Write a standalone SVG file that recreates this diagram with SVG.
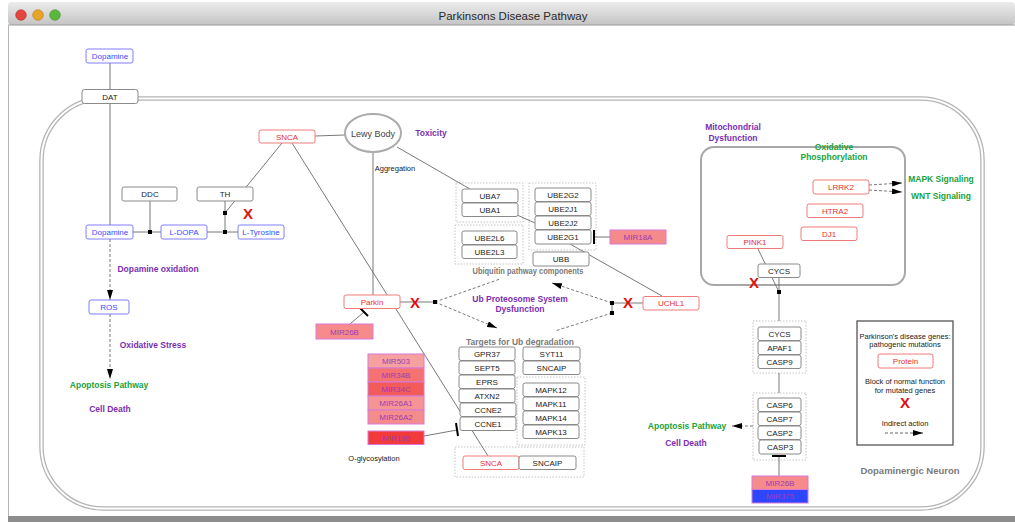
<svg xmlns="http://www.w3.org/2000/svg" width="1015" height="522" viewBox="0 0 1015 522">
<defs>
<linearGradient id="tb" x1="0" y1="0" x2="0" y2="1"><stop offset="0" stop-color="#ececec"/><stop offset="1" stop-color="#c4c4c4"/></linearGradient>
<marker id="arr" viewBox="0 0 10 6" refX="10" refY="3" markerWidth="10" markerHeight="6" markerUnits="userSpaceOnUse" orient="auto"><path d="M0,0 L10,3 L0,6 z" fill="#000"/></marker>
<marker id="arrs" viewBox="0 0 10 6" refX="10" refY="3" markerWidth="11" markerHeight="6" markerUnits="userSpaceOnUse" orient="auto"><path d="M0,0 L10,3 L0,6 z" fill="#000"/></marker>
</defs>
<style>
text{font-family:"Liberation Sans",Arial,sans-serif}
.n rect{fill:#fff;stroke:#8a8a8a;stroke-width:1}
.n text{font-size:8px;fill:#222;text-anchor:middle}
.b rect{fill:#fff;stroke:#7f7fff;stroke-width:1}
.b text{font-size:8px;fill:#3a4cff;text-anchor:middle}
.r rect{fill:#fff;stroke:#f07a7a;stroke-width:1}
.r text{font-size:8px;fill:#e83030;text-anchor:middle}
.m rect{stroke:#d77ad7;stroke-width:1}
.m text{font-size:8px;fill:#a03cb4;text-anchor:middle}
.grp{fill:none;stroke:#c4c4c4;stroke-width:1;stroke-dasharray:1.5,1.5}
.lp{font-size:8.5px;font-weight:bold;fill:#7b2fb0;text-anchor:middle}
.lg{font-size:8.5px;font-weight:bold;fill:#22a23a;text-anchor:middle}
.ly{font-size:9.5px;font-weight:bold;fill:#7a7a7a;text-anchor:middle}
.sm{font-size:7.5px;fill:#222;text-anchor:middle}
.x{font-size:15px;font-weight:bold;fill:#e01010;text-anchor:middle}
.c line,.c path{stroke:#6a6a6a;stroke-width:0.9;fill:none}
.d{stroke:#555;stroke-width:0.9;stroke-dasharray:3,2;fill:none}
.c .bar{stroke:#000;stroke-width:2}
.c rect{fill:#000}
</style>
<!-- window chrome -->
<rect x="0" y="0" width="1015" height="522" fill="#fff"/>
<rect x="8" y="2" width="1007" height="23" rx="4" fill="url(#tb)"/>
<line x1="8" y1="25" x2="1015" y2="25" stroke="#9a9a9a" stroke-width="1"/>
<line x1="8.5" y1="25" x2="8.5" y2="517" stroke="#b5b5b5" stroke-width="1"/>
<rect x="8" y="516" width="1007" height="6" fill="#8d8d8d"/>
<circle cx="21" cy="15" r="5.3" fill="#e2463f" stroke="#b03028" stroke-width="0.6"/>
<circle cx="38" cy="15" r="5.3" fill="#e8a428" stroke="#b57d1a" stroke-width="0.6"/>
<circle cx="55" cy="15" r="5.3" fill="#5cb83c" stroke="#3f8a28" stroke-width="0.6"/>
<text x="513" y="19.5" font-size="11.5" fill="#2a2a2a" text-anchor="middle">Parkinsons Disease Pathway</text>
<!-- cell membrane -->
<rect x="41.5" y="98.5" width="941" height="410" rx="62" fill="none" stroke="#b4b4b4" stroke-width="4.5"/>
<rect x="41.5" y="98.5" width="941" height="410" rx="62" fill="none" stroke="#fff" stroke-width="2"/>
<!-- mitochondria -->
<rect x="701" y="147" width="204" height="138" rx="13" fill="none" stroke="#a8a8a8" stroke-width="2"/>
<!-- group boxes -->
<rect class="grp" x="456" y="183" width="67" height="39"/>
<rect class="grp" x="455" y="225" width="68" height="39"/>
<rect class="grp" x="529" y="183" width="67" height="67"/>
<rect class="grp" x="517" y="377" width="68" height="68"/>
<rect class="grp" x="455" y="447" width="129" height="30"/>
<rect class="grp" x="753" y="321" width="53" height="52"/>
<rect class="grp" x="753" y="393" width="53" height="67"/>
<!-- connectors -->
<g id="connectors" class="c">
<line x1="110" y1="63" x2="110" y2="89"/>
<line x1="110" y1="104" x2="110" y2="225"/>
<line x1="133" y1="232" x2="161" y2="232"/>
<line x1="150" y1="201" x2="150" y2="232"/>
<line x1="207" y1="232" x2="238" y2="232"/>
<line x1="225" y1="201" x2="225" y2="232"/>
<line x1="282" y1="143" x2="225" y2="213"/>
<line x1="315" y1="136" x2="345" y2="135"/>
<line x1="373" y1="152" x2="373" y2="295"/>
<line x1="397" y1="147" x2="470" y2="189"/>
<line x1="292" y1="143" x2="488" y2="456"/>
<line x1="517" y1="215" x2="535" y2="223"/>
<line x1="610" y1="237" x2="594" y2="237"/>
<line class="bar" x1="594" y1="230" x2="594" y2="244"/>
<line x1="570" y1="244" x2="662" y2="296"/>
<line x1="400" y1="302" x2="435" y2="302"/>
<line class="d" x1="435" y1="302" x2="500" y2="279"/>
<line class="d" x1="435" y1="302" x2="497" y2="328" marker-end="url(#arr)"/>
<line x1="643" y1="303" x2="612" y2="303"/>
<line x1="612" y1="303" x2="612" y2="313"/>
<line class="d" x1="612" y1="303" x2="552" y2="283" marker-end="url(#arr)"/>
<line class="d" x1="612" y1="313" x2="555" y2="331"/>
<line x1="350" y1="324" x2="364" y2="312"/>
<line class="bar" x1="360" y1="308" x2="368" y2="316"/>
<line x1="424" y1="436" x2="457" y2="430"/>
<line class="bar" x1="456" y1="423" x2="458" y2="436"/>
<line class="d" x1="110" y1="239" x2="110" y2="300" marker-end="url(#arr)"/>
<line class="d" x1="110" y1="314" x2="110" y2="379" marker-end="url(#arr)"/>
<line class="d" x1="869" y1="185" x2="902" y2="183" marker-end="url(#arrs)"/>
<line class="d" x1="869" y1="190" x2="902" y2="192" marker-end="url(#arrs)"/>
<line x1="758" y1="249" x2="779" y2="292"/>
<line x1="779" y1="277" x2="779" y2="321"/>
<line x1="779" y1="373" x2="779" y2="393"/>
<line class="d" x1="753" y1="426" x2="732" y2="426" marker-end="url(#arr)"/>
<line x1="779" y1="476" x2="779" y2="457"/>
<line class="bar" x1="772" y1="456" x2="786" y2="456"/>
<rect x="148" y="230" width="4" height="4"/>
<rect x="223" y="230" width="4" height="4"/>
<rect x="223" y="211" width="4" height="4"/>
<rect x="433" y="300" width="4" height="4"/>
<rect x="610" y="301" width="4" height="4"/>
<rect x="610" y="311" width="4" height="4"/>
<rect x="777" y="290" width="4" height="4"/>
</g>
<!-- nodes -->
<g id="dopamine-top" class="b"><rect x="86" y="49" width="47" height="14" rx="2"/><text x="110" y="59">Dopamine</text></g>
<g id="dat" class="n"><rect x="82" y="89.5" width="56" height="14" rx="2.5"/><text x="110" y="99.5">DAT</text></g>
<g id="ddc" class="n"><rect x="122" y="187" width="55" height="14" rx="2"/><text x="150" y="197">DDC</text></g>
<g id="th" class="n"><rect x="197" y="187" width="56" height="14" rx="2"/><text x="225" y="197">TH</text></g>
<g id="dopamine" class="b"><rect x="86" y="225" width="47" height="14" rx="2"/><text x="110" y="235">Dopamine</text></g>
<g id="ldopa" class="b"><rect x="161" y="225" width="46" height="14" rx="2"/><text x="184" y="235">L-DOPA</text></g>
<g id="ltyrosine" class="b"><rect x="238" y="225" width="46" height="14" rx="2"/><text x="261" y="235">L-Tyrosine</text></g>
<g id="ros" class="b"><rect x="89" y="300" width="40" height="14" rx="2"/><text x="109" y="310">ROS</text></g>
<g id="snca-top" class="r"><rect x="259" y="130" width="56" height="13" rx="2"/><text x="287" y="139.5">SNCA</text></g>
<g id="lewy-body"><ellipse cx="373" cy="133" rx="28" ry="19" fill="#fff" stroke="#ababab" stroke-width="2"/><text x="373" y="136.5" font-size="9" fill="#444" text-anchor="middle">Lewy Body</text></g>
<g id="uba7" class="n"><rect x="462" y="189" width="56" height="13.5" rx="2"/><text x="490" y="198.8">UBA7</text></g>
<g id="uba1" class="n"><rect x="462" y="203" width="56" height="13.5" rx="2"/><text x="490" y="212.8">UBA1</text></g>
<g id="ube2l6" class="n"><rect x="462" y="231" width="55" height="13.5" rx="2"/><text x="489.5" y="240.8">UBE2L6</text></g>
<g id="ube2l3" class="n"><rect x="462" y="245" width="55" height="13.5" rx="2"/><text x="489.5" y="254.8">UBE2L3</text></g>
<g id="ube2g2" class="n"><rect x="535" y="188" width="56" height="13.5" rx="2"/><text x="563" y="197.8">UBE2G2</text></g>
<g id="ube2j1" class="n"><rect x="535" y="202" width="56" height="13.5" rx="2"/><text x="563" y="211.8">UBE2J1</text></g>
<g id="ube2j2" class="n"><rect x="535" y="216" width="56" height="13.5" rx="2"/><text x="563" y="225.8">UBE2J2</text></g>
<g id="ube2g1" class="n"><rect x="535" y="230" width="56" height="14" rx="2"/><text x="563" y="240">UBE2G1</text></g>
<g id="ubb" class="n"><rect x="533" y="252" width="56" height="14" rx="2"/><text x="561" y="262">UBB</text></g>
<g id="mir18a" class="m"><rect x="610" y="230" width="56" height="14" fill="#f58a8a"/><text x="638" y="240">MIR18A</text></g>
<g id="parkin" class="r"><rect x="344" y="295" width="56" height="13.5" rx="2"/><text x="372" y="304.8">Parkin</text></g>
<g id="mir26b-left" class="m"><rect x="316" y="324" width="57" height="15" fill="#f78a8a"/><text x="344.5" y="334.5">MIR26B</text></g>
<g id="uchl1" class="r"><rect x="643" y="296.5" width="56" height="13.5" rx="2"/><text x="671" y="306.3">UCHL1</text></g>
<g id="gpr37" class="n"><rect x="459" y="347" width="56" height="13.5" rx="2"/><text x="487" y="356.8">GPR37</text></g>
<g id="sept5" class="n"><rect x="459" y="361" width="56" height="13.5" rx="2"/><text x="487" y="370.8">SEPT5</text></g>
<g id="eprs" class="n"><rect x="459" y="375" width="56" height="13.5" rx="2"/><text x="487" y="384.8">EPRS</text></g>
<g id="atxn2" class="n"><rect x="459" y="389" width="56" height="13.5" rx="2"/><text x="487" y="398.8">ATXN2</text></g>
<g id="ccne2" class="n"><rect x="460" y="403" width="56" height="13.5" rx="2"/><text x="488" y="412.8">CCNE2</text></g>
<g id="ccne1" class="n"><rect x="460" y="417" width="56" height="13.5" rx="2"/><text x="488" y="426.8">CCNE1</text></g>
<g id="syt11" class="n"><rect x="523" y="347" width="57" height="13.5" rx="2"/><text x="551.5" y="356.8">SYT11</text></g>
<g id="sncaip-top" class="n"><rect x="523" y="361" width="57" height="13.5" rx="2"/><text x="551.5" y="370.8">SNCAIP</text></g>
<g id="mapk12" class="n"><rect x="523" y="383" width="56" height="13.5" rx="2"/><text x="551" y="392.8">MAPK12</text></g>
<g id="mapk11" class="n"><rect x="523" y="397" width="56" height="13.5" rx="2"/><text x="551" y="406.8">MAPK11</text></g>
<g id="mapk14" class="n"><rect x="523" y="411" width="56" height="13.5" rx="2"/><text x="551" y="420.8">MAPK14</text></g>
<g id="mapk13" class="n"><rect x="523" y="425" width="56" height="13.5" rx="2"/><text x="551" y="434.8">MAPK13</text></g>
<g id="snca-bottom" class="r"><rect x="463" y="456" width="56" height="13.5" rx="2"/><text x="491" y="465.8">SNCA</text></g>
<g id="sncaip-bottom" class="n"><rect x="519" y="456" width="57" height="13.5" rx="2"/><text x="547.5" y="465.8">SNCAIP</text></g>
<g id="mir503" class="m"><rect x="368" y="354" width="56" height="14" fill="#f7a0a0"/><text x="396" y="364">MIR503</text></g>
<g id="mir34b" class="m"><rect x="368" y="368" width="56" height="14" fill="#f57272"/><text x="396" y="378">MIR34B</text></g>
<g id="mir34c" class="m"><rect x="368" y="382" width="56" height="14" fill="#f35a5a"/><text x="396" y="392">MIR34C</text></g>
<g id="mir26a1" class="m"><rect x="368" y="396" width="56" height="14" fill="#f69494"/><text x="396" y="406">MIR26A1</text></g>
<g id="mir26a2" class="m"><rect x="368" y="410" width="56" height="14" fill="#f58c8c"/><text x="396" y="420">MIR26A2</text></g>
<g id="mir195" class="m"><rect x="368" y="431" width="56" height="13.5" fill="#f23a3a"/><text x="396" y="440.8">MIR195</text></g>
<g id="lrrk2" class="r"><rect x="813" y="180" width="56" height="14" rx="2"/><text x="841" y="190">LRRK2</text></g>
<g id="htra2" class="r"><rect x="807" y="204" width="56" height="13.5" rx="2"/><text x="835" y="213.8">HTRA2</text></g>
<g id="dj1" class="r"><rect x="801" y="227" width="56" height="13.5" rx="2"/><text x="829" y="236.8">DJ1</text></g>
<g id="pink1" class="r"><rect x="727" y="235.5" width="56" height="13" rx="2"/><text x="755" y="245">PINK1</text></g>
<g id="cycs-mito" class="n"><rect x="758" y="264" width="42" height="13.5" rx="2"/><text x="779" y="273.8">CYCS</text></g>
<g id="cycs" class="n"><rect x="758" y="327" width="43" height="13.5" rx="2"/><text x="779.5" y="336.8">CYCS</text></g>
<g id="apaf1" class="n"><rect x="758" y="341" width="43" height="13.5" rx="2"/><text x="779.5" y="350.8">APAF1</text></g>
<g id="casp9" class="n"><rect x="758" y="355" width="43" height="13.5" rx="2"/><text x="779.5" y="364.8">CASP9</text></g>
<g id="casp6" class="n"><rect x="758" y="398" width="43" height="13.5" rx="2"/><text x="779.5" y="407.8">CASP6</text></g>
<g id="casp7" class="n"><rect x="758" y="412" width="43" height="13.5" rx="2"/><text x="779.5" y="421.8">CASP7</text></g>
<g id="casp2" class="n"><rect x="758" y="426" width="43" height="13.5" rx="2"/><text x="779.5" y="435.8">CASP2</text></g>
<g id="casp3" class="n"><rect x="759" y="440" width="42" height="14" rx="2"/><text x="780" y="450">CASP3</text></g>
<g id="mir26b-right" class="m"><rect x="752" y="476" width="56" height="13.5" fill="#f78a8a"/><text x="780" y="485.8">MIR26B</text></g>
<g id="mir375" class="m"><rect x="752" y="489.5" width="56" height="13.5" fill="#2f46ff"/><text x="780" y="499.3">MIR375</text></g>
<!-- labels -->
<g id="labels">
<text class="lp" x="431" y="136">Toxicity</text>
<text class="sm" x="395" y="171">Aggregation</text>
<text class="ly" x="528" y="274" textLength="111" lengthAdjust="spacingAndGlyphs">Ubiquitin pathway components</text>
<text class="lp" x="520" y="302">Ub Proteosome System</text>
<text class="lp" x="520" y="312">Dysfunction</text>
<text class="ly" x="520" y="344.5" textLength="108" lengthAdjust="spacingAndGlyphs">Targets for Ub degradation</text>
<text class="sm" x="374" y="461">O-glycosylation</text>
<text class="lp" x="158" y="272">Dopamine oxidation</text>
<text class="lp" x="153" y="348">Oxidative Stress</text>
<text class="lg" x="109" y="388">Apoptosis Pathway</text>
<text class="lp" x="110" y="412">Cell Death</text>
<text class="lp" x="733" y="130">Mitochondrial</text>
<text class="lp" x="733" y="141">Dysfunction</text>
<text class="lg" x="834" y="150">Oxidative</text>
<text class="lg" x="834" y="160">Phosphorylation</text>
<text class="lg" x="941" y="182">MAPK Signaling</text>
<text class="lg" x="941" y="199">WNT Signaling</text>
<text class="lg" x="687" y="429">Apoptosis Pathway</text>
<text class="lp" x="686" y="446">Cell Death</text>
<text class="ly" x="910" y="474" font-size="10.5">Dopaminergic Neuron</text>
</g>
<g id="xmarks">
<text class="x" x="248" y="219">X</text>
<text class="x" x="415" y="308">X</text>
<text class="x" x="628" y="308">X</text>
<text class="x" x="754" y="288">X</text>
</g>
<!-- legend -->
<g id="legend">
<rect x="857" y="321" width="96" height="124" fill="#fff" stroke="#555" stroke-width="1.3"/>
<text class="sm" x="905" y="339" font-size="7">Parkinson's disease genes:</text>
<text class="sm" x="905" y="347" font-size="7">pathogenic mutations</text>
<g class="r"><rect x="878" y="354" width="55" height="14" rx="2"/><text x="905.5" y="364">Protein</text></g>
<text class="sm" x="905" y="384" font-size="7">Block of normal function</text>
<text class="sm" x="905" y="393" font-size="7">for mutated genes</text>
<text class="x" x="905" y="408">X</text>
<text class="sm" x="905" y="426" font-size="7">Indirect action</text>
<line class="d" x1="885" y1="433" x2="923" y2="433" marker-end="url(#arrs)"/>
</g>
</svg>
